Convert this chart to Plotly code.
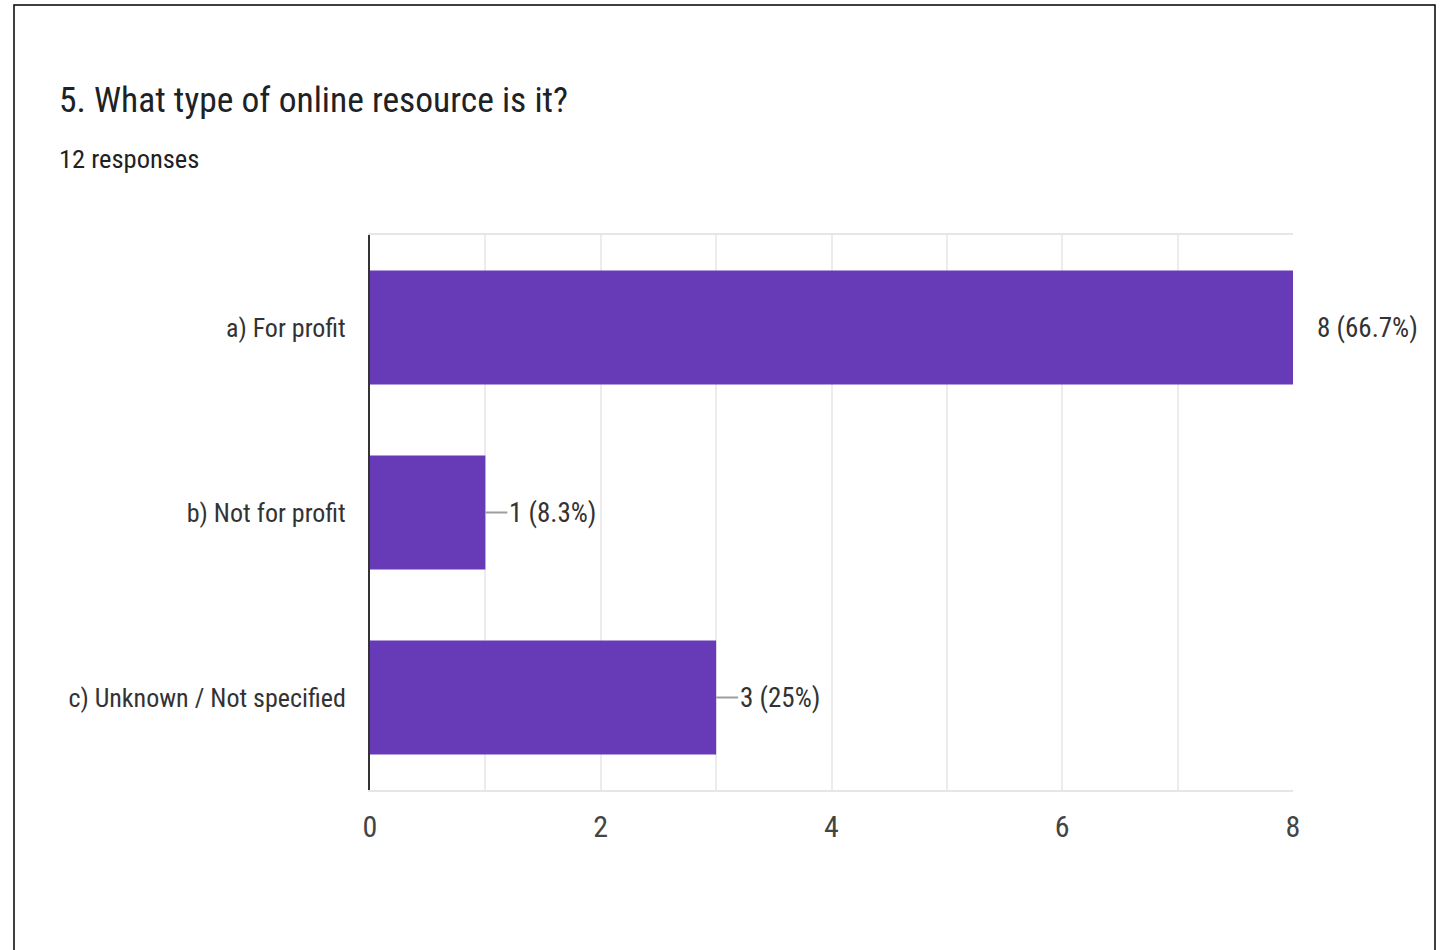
import plotly.graph_objects as go

categories = ["a) For profit", "b) Not for profit", "c) Unknown / Not specified"]
counts = [8, 1, 3]
total_responses = 12
x_ticks = [0, 2, 4, 6, 8]

title_text = "5. What type of online resource is it?"
subtitle_text = f"{total_responses} responses"

labels = [f"{c} ({round(100 * c / total_responses, 1):g}%)" for c in counts]

W, H = 1440, 950
L, R, T, B = 370, 1293, 235, 790
FONT = "Liberation Sans Narrow, Roboto Condensed, Arial Narrow, Roboto, sans-serif"
TXT = "#333333"


def px(x):
    return (x - L) / (R - L)


def py(y):
    return (B - y) / (B - T)


fig = go.Figure()
fig.add_trace(go.Bar(
    x=counts,
    y=categories,
    orientation="h",
    marker=dict(color="#673ab7", line=dict(width=0)),
    width=0.615,
    hoverinfo="x+y",
))

xmax = max(x_ticks)
for c, cat, lab in zip(counts, categories, labels):
    fig.add_annotation(
        x=c, y=cat, xref="x", yref="y",
        text=lab, showarrow=True, ax=22, ay=0,
        arrowhead=0, arrowwidth=2,
        arrowcolor="rgba(0,0,0,0)" if c >= xmax else "#9e9e9e",
        xanchor="left", yanchor="middle",
        font=dict(family=FONT, size=27, color=TXT),
    )

fig.add_annotation(
    x=px(57), y=py(100), xref="paper", yref="paper",
    text=title_text, showarrow=False, xanchor="left", yanchor="middle",
    font=dict(family=FONT, size=35.5, color="#202124"),
)
fig.add_annotation(
    x=px(57), y=py(158), xref="paper", yref="paper",
    text=subtitle_text, showarrow=False, xanchor="left", yanchor="middle",
    font=dict(family=FONT, size=26.5, color="#202124"),
)

# outer frame
fig.add_shape(
    type="rect", xref="paper", yref="paper",
    x0=px(14), x1=px(1435), y0=py(1000), y1=py(5),
    line=dict(color="#000000", width=1.5), fillcolor="rgba(0,0,0,0)",
    layer="below",
)

fig.update_layout(
    width=W, height=H,
    margin=dict(l=L, r=W - R, t=T, b=H - B, autoexpand=False),
    paper_bgcolor="white", plot_bgcolor="white",
    showlegend=False,
    font=dict(family=FONT, color=TXT),
    bargap=0.385,
)
fig.update_xaxes(
    range=[0, xmax], tickvals=x_ticks,
    showgrid=True, gridcolor="#ececec", gridwidth=1.5,
    minor=dict(dtick=1, showgrid=True, gridcolor="#ececec", gridwidth=1.5),
    zeroline=False,
    showline=True, linecolor="#e6e6e6", linewidth=2, mirror=True,
    ticks="outside", ticklen=9, tickcolor="rgba(0,0,0,0)",
    tickfont=dict(family=FONT, size=30, color="#444444"),
    fixedrange=True,
)
fig.update_yaxes(
    categoryorder="array", categoryarray=categories,
    autorange="reversed",
    showgrid=False, zeroline=False,
    showline=True, linecolor="#333333", linewidth=2, mirror=False,
    ticks="outside", ticklen=17, tickcolor="rgba(0,0,0,0)",
    tickfont=dict(family=FONT, size=26, color=TXT),
    fixedrange=True,
)

fig.write_html("out.html")
